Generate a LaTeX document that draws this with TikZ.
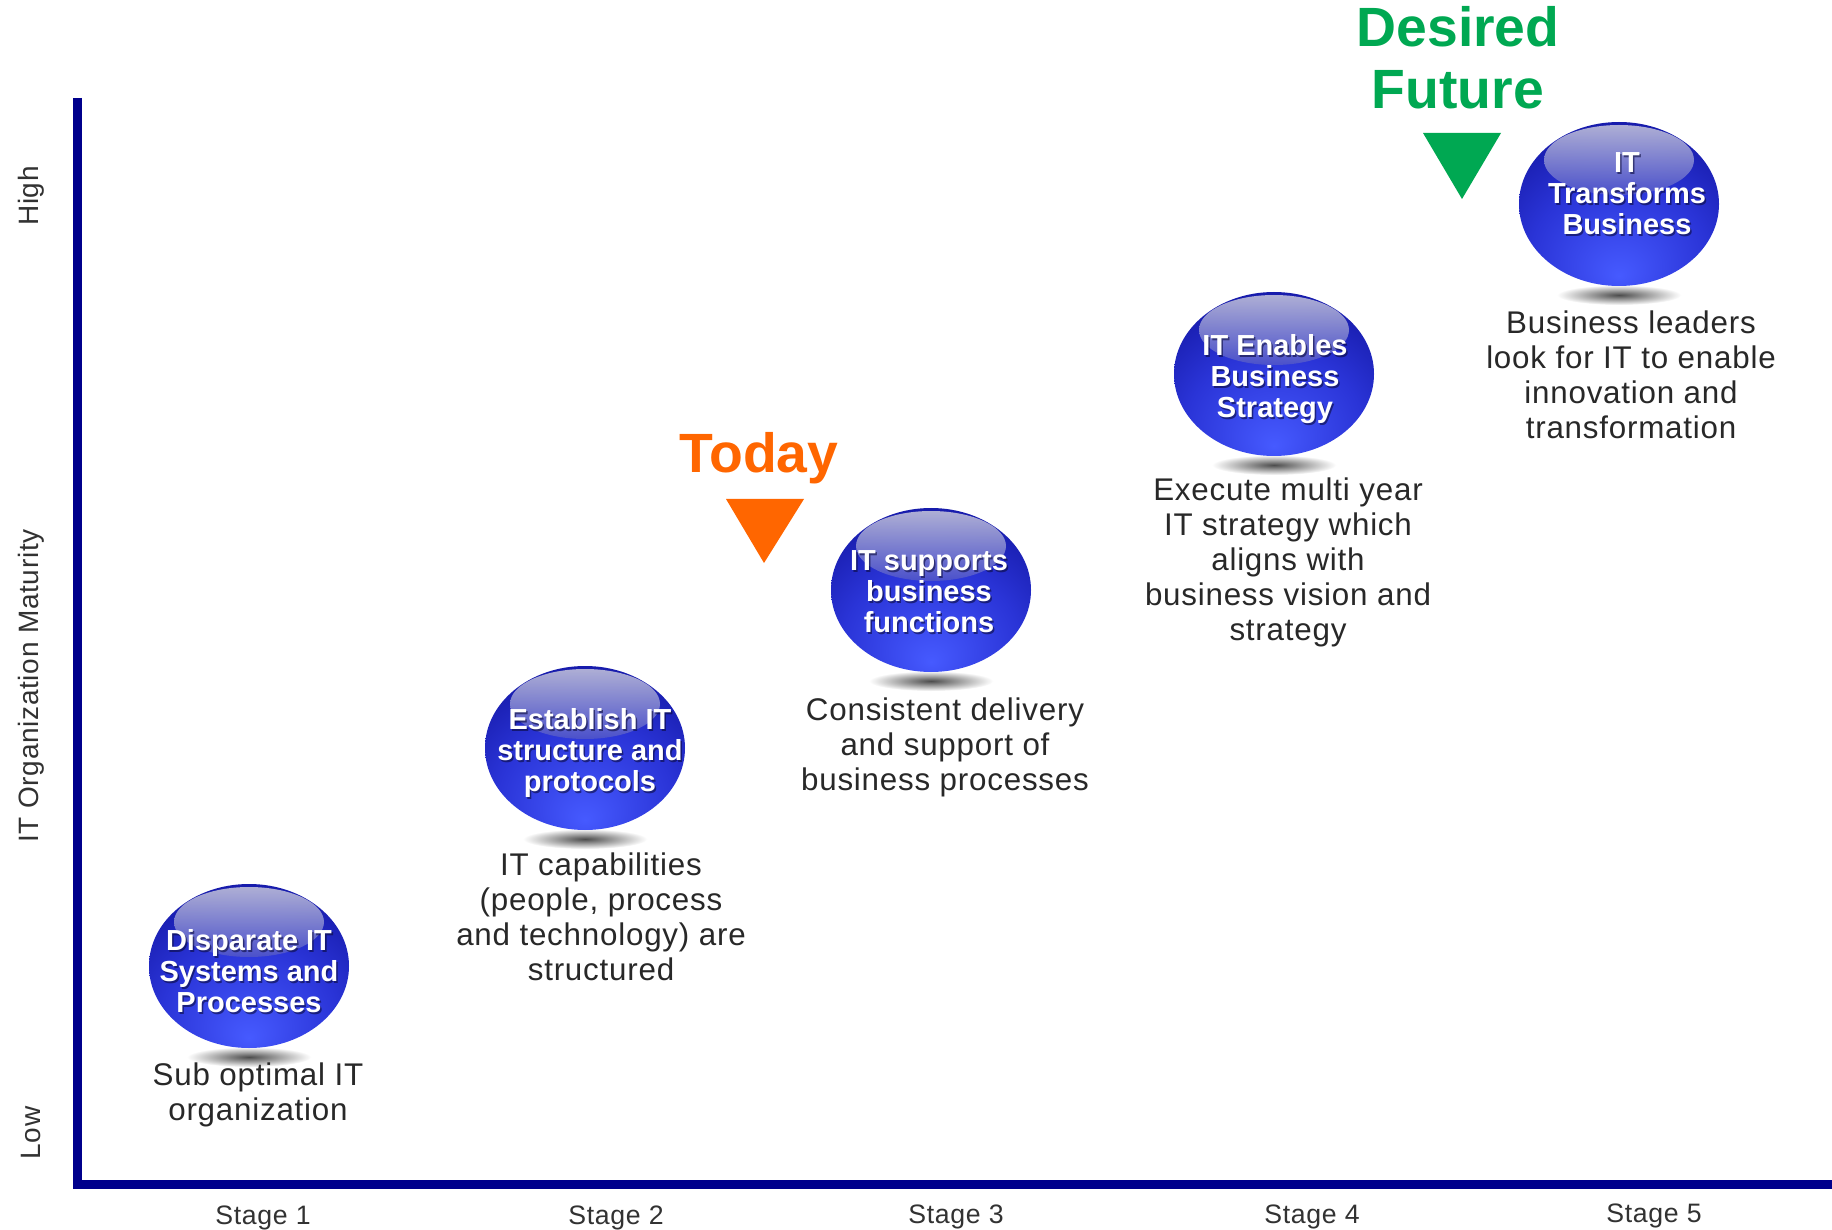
\documentclass[tikz,border=0pt]{standalone}
\usepackage{fontspec}
\setmainfont{Liberation Sans}
\newfontfamily\descfont[LetterSpace=2.5]{Liberation Sans}
\usetikzlibrary{shapes.geometric}
\definecolor{axisblue}{RGB}{0,0,140}
\definecolor{todayorange}{RGB}{255,102,0}
\definecolor{futuregreen}{RGB}{0,168,82}
\definecolor{desccol}{RGB}{40,40,40}
\definecolor{labelcol}{RGB}{50,50,50}
\definecolor{hiA}{RGB}{200,200,220}
\definecolor{hiB}{RGB}{80,85,200}
\definecolor{orbA}{RGB}{70,90,255}
\definecolor{orbB}{RGB}{42,52,215}
\definecolor{orbC}{RGB}{16,18,155}
\definecolor{orbD}{RGB}{6,6,108}
\definecolor{orbE}{RGB}{0,0,78}
\definecolor{txtshadow}{RGB}{10,10,60}
\pgfdeclareradialshading{orbshade}{\pgfpoint{0bp}{-22bp}}{%
  color(0bp)=(orbA); color(22bp)=(orbB); color(42bp)=(orbC);
  color(58bp)=(orbD); color(75bp)=(orbE)}
\tikzset{
  orbnode/.style={ellipse, minimum width=150pt, minimum height=123pt,
    inner sep=0pt, shading=orbshade},
  orbtext/.style={align=center, text=white,
    font=\bfseries\fontsize{21.75}{23.25}\selectfont},
  orbtextshadow/.style={orbtext, text=txtshadow, opacity=0.6},
  desc/.style={align=center, text=desccol,
    font=\descfont\fontsize{23.5}{26.25}\selectfont},
  stagelabel/.style={text=labelcol, font=\descfont\fontsize{20}{22}\selectfont},
  axislabel/.style={text=labelcol, rotate=90, font=\descfont\fontsize{21}{24}\selectfont},
  axisline/.style={draw=axisblue, line width=6.75pt, line join=miter},
  marker/.style={font=\bfseries\fontsize{41.5}{46.5}\selectfont, align=center}
}
\newcommand\orbitem[6]{% name, cx, cy, text, text dx, text dy
  \shade[inner color=black!70, outer color=white] (#2,#3+91) ellipse (62 and 10);
  \node[orbnode] (#1) at (#2,#3) {};
  \shade[top color=hiA, bottom color=hiB, fill opacity=0.85] (#2,#3-44) ellipse (75 and 35);
  \node[orbtextshadow] at (#2+#5+1.5,#3+#6+2) {#4};
  \node[orbtext] at (#2+#5,#3+#6) {#4};
}
\begin{document}
\begin{tikzpicture}[x=0.75pt,y=-0.75pt]
\useasboundingbox (0,0) rectangle (1832,1230);
\fill[white] (0,0) rectangle (1832,1230);

% axes
\coordinate (ytop) at (77,98);
\coordinate (origin) at (77,1184);
\coordinate (xend) at (1832,1184);
\draw[axisline] (ytop) -- (origin) -- (xend);

% axis labels
\node[axislabel] (lhigh) at (31,196) {High};
\node[axislabel] (lmid) at (31,686) {IT Organization Maturity};
\node[axislabel] (llow) at (31,1133) {Low};

% stage labels
\node[stagelabel, anchor=base] (st1) at (263,1224) {Stage 1};
\node[stagelabel, anchor=base] (st2) at (616,1224) {Stage 2};
\node[stagelabel, anchor=base] (st3) at (956,1223) {Stage 3};
\node[stagelabel, anchor=base] (st4) at (1312,1223) {Stage 4};
\node[stagelabel, anchor=base] (st5) at (1654,1222) {Stage 5};

% orbs
\orbitem{o1}{249}{966}{Disparate IT\\Systems and\\Processes}{0}{5}
\orbitem{o2}{585}{748}{Establish IT\\structure and\\protocols}{5}{5}
\orbitem{o3}{931}{590}{IT supports\\business\\functions}{-2}{2}
\orbitem{o4}{1274}{374}{IT Enables\\Business\\Strategy}{1}{5}
\orbitem{o5}{1619}{204}{IT\\Transforms\\Business}{8}{-10}

% descriptions
\node[desc] (d1) at (258,1095) {Sub optimal IT\\organization};
\node[desc] (d2) at (601,917) {IT capabilities\\(people, process\\and technology) are\\structured};
\node[desc] (d3) at (945,747) {Consistent delivery\\and support of\\business processes};
\node[desc] (d4) at (1288,562) {Execute multi year\\IT strategy which\\aligns with\\business vision and\\strategy};
\node[desc] (d5) at (1631,375) {Business leaders\\look for IT to enable\\innovation and\\transformation};

% Today marker
\node[marker, text=todayorange, anchor=base] (today) at (759,473) {Today};
\fill[todayorange] (726,499) -- (804,499) -- (764,563) -- cycle;

% Desired Future marker
\node[marker, text=futuregreen, anchor=base] (future1) at (1458,47) {Desired};
\node[marker, text=futuregreen, anchor=base] (future2) at (1458,109) {Future};
\fill[futuregreen] (1423,133) -- (1501,133) -- (1462,199) -- cycle;
\end{tikzpicture}
\end{document}
